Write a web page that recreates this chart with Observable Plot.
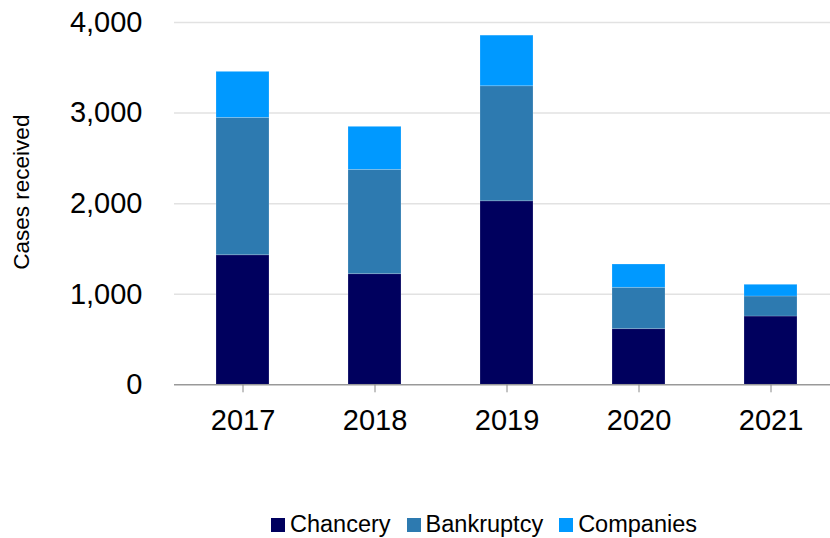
<!DOCTYPE html>
<html>
<head>
<meta charset="utf-8">
<script src="https://cdn.jsdelivr.net/npm/d3@7"></script>
<script src="https://cdn.jsdelivr.net/npm/@observablehq/plot@0.6"></script>
<style>
  html, body { margin: 0; padding: 0; background: #fff; }
  body { width: 830px; height: 538px; position: relative; overflow: hidden; font-family: "Liberation Sans", Arial, sans-serif; }
  #chart { position: absolute; left: 0; top: 0; }
  #legend { position: absolute; left: 271px; top: 511px; display: flex; align-items: center; font-size: 23.5px; color: #000; white-space: nowrap; }
  .item { display: flex; align-items: center; margin-right: 16px; }
  .sw { width: 14px; height: 14px; margin-right: 5px; }
</style>
</head>
<body>
<div id="chart"></div>
<div id="legend"></div>
<script>
const years = ["2017", "2018", "2019", "2020", "2021"];
const chancery = [1430, 1221, 2026, 614, 754];
const bankruptcy = [1517, 1152, 1270, 457, 221];
const companies = [508, 475, 559, 257, 129];
const seriesNames = ["Chancery", "Bankruptcy", "Companies"];
const seriesColors = ["#00005E", "#2D7AB0", "#0099FF"];
const yTicks = [0, 1000, 2000, 3000, 4000];

const seriesValues = [chancery, bankruptcy, companies];
const data = [];
seriesNames.forEach((s, i) => years.forEach((y, j) => data.push({year: y, series: s, value: seriesValues[i][j]})));

const W = 830, H = 500;
const chart = Plot.plot({
  width: W,
  height: H,
  marginLeft: 174,
  marginRight: 0,
  marginTop: 22,
  marginBottom: H - 384.3,
  style: {fontFamily: "'Liberation Sans', Arial, sans-serif", color: "#000", background: "#fff"},
  x: {domain: years, range: [174.3, 838.7], paddingInner: 0.6, paddingOuter: 0.3, label: null},
  y: {domain: [0, 4000], range: [384.3, 22], label: null},
  color: {domain: seriesNames, range: seriesColors},
  marks: [
    Plot.ruleY(yTicks.filter(d => d > 0), {stroke: "#e2e2e2", strokeWidth: 1.5}),
    Plot.barY(data, Plot.stackY({x: "year", y: "value", fill: "series", order: seriesNames, stroke: "#ffffff", strokeOpacity: 0.25, strokeWidth: 0.75})),
    Plot.ruleY([0], {stroke: "#999", strokeWidth: 1.5}),
    Plot.axisY({ticks: yTicks, tickSize: 0, tickPadding: 32, tickFormat: d3.format(","), fontSize: 29, label: null}),
    Plot.axisX({tickSize: 8, tickPadding: 16.7, stroke: "#888", fontSize: 29, label: null}),
    Plot.text(["Cases received"], {frameAnchor: "left", textAnchor: "middle", rotate: -90, dx: -153, dy: -11.5, fontSize: 22.5, fill: "#000"})
  ]
});
document.getElementById("chart").appendChild(chart);

const legend = document.getElementById("legend");
seriesNames.forEach((s, i) => {
  const item = document.createElement("div");
  item.className = "item";
  const sw = document.createElement("div");
  sw.className = "sw";
  sw.style.background = seriesColors[i];
  const t = document.createElement("span");
  t.textContent = s;
  item.appendChild(sw);
  item.appendChild(t);
  legend.appendChild(item);
});
</script>
</body>
</html>
